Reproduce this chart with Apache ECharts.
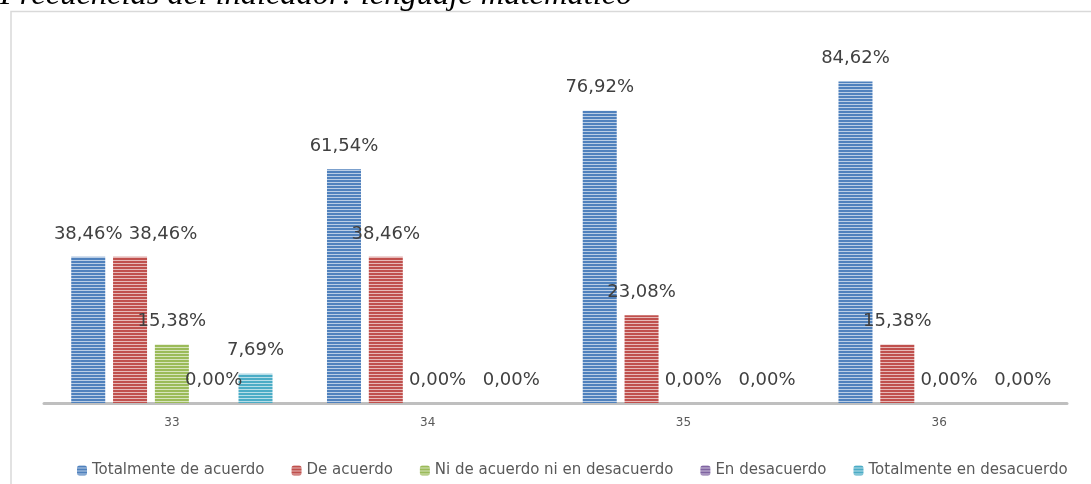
<!DOCTYPE html>
<html>
<head>
<meta charset="utf-8">
<script src="https://cdn.jsdelivr.net/npm/echarts@6/dist/echarts.min.js"></script>
<style>
  html, body { margin: 0; padding: 0; background: #fff; }
  #main { width: 1091px; height: 484px; }
</style>
</head>
<body>
<div id="main"></div>
<script>
const categories = ["33", "34", "35", "36"];
const seriesNames = ["Totalmente de acuerdo", "De acuerdo", "Ni de acuerdo ni en desacuerdo", "En desacuerdo", "Totalmente en desacuerdo"];
const totalmenteDeAcuerdo = [38.46, 61.54, 76.92, 84.62];
const deAcuerdo = [38.46, 38.46, 23.08, 15.38];
const niDeAcuerdo = [15.38, 0, 0, 0];
const enDesacuerdo = [0, 0, 0, 0];
const totalmenteEnDesacuerdo = [7.69, 0, 0, 0];
const colorArr = ["#4F81BD", "#C0504D", "#9BBB59", "#8064A2", "#4BACC6"];

// striped fill like the office chart
function stripes(hex) {
  const c = document.createElement("canvas");
  c.width = 4;
  c.height = 3;
  const ctx = c.getContext("2d");
  const r = parseInt(hex.slice(1, 3), 16), g = parseInt(hex.slice(3, 5), 16), b = parseInt(hex.slice(5, 7), 16);
  const mix = (v, k) => Math.round(v + (255 - v) * k);
  ctx.fillStyle = hex;
  ctx.fillRect(0, 0, 4, 2);
  ctx.fillStyle = "rgb(" + mix(r, 0.6) + "," + mix(g, 0.6) + "," + mix(b, 0.6) + ")";
  ctx.fillRect(0, 2, 4, 1);
  return { image: c, repeat: "repeat" };
}

const allData = [totalmenteDeAcuerdo, deAcuerdo, niDeAcuerdo, enDesacuerdo, totalmenteEnDesacuerdo];

// label tweaks so the overlapping labels sit like in the original
function labelFor(si, di) {
  if (si === 1 && di === 0) return { offset: [33, 0] };
  if (si === 2 && di > 0) return { offset: [10, 0] };
  if (si === 3 && di > 0) return { show: false };
  return {};
}

let chart = echarts.init(document.getElementById("main"));
let option = {
  animation: false,
  title: {
    text: "Frecuencias del indicador: lenguaje matemático",
    left: 0,
    top: -21,
    padding: 0,
    textStyle: {
      fontFamily: "Liberation Serif",
      fontStyle: "italic",
      fontWeight: "normal",
      fontSize: 32.5,
      color: "#000"
    }
  },
  graphic: [
    {
      type: "rect",
      shape: { x: 11, y: 11.5, width: 1100, height: 500 },
      style: { fill: "none", stroke: "#d9d9d9", lineWidth: 1.5 },
      silent: true
    }
  ],
  legend: {
    bottom: 1,
    left: 72,
    itemWidth: 10,
    itemHeight: 10,
    itemGap: 27,
    textStyle: { fontFamily: "DejaVu Sans", fontSize: 15, color: "#595959" },
    data: seriesNames
  },
  grid: { left: 44, right: 24, top: 23, bottom: 81 },
  xAxis: {
    type: "category",
    data: categories,
    axisLine: { lineStyle: { color: "#bfbfbf", width: 3 } },
    axisTick: { show: false },
    axisLabel: { color: "#595959", fontSize: 12, fontFamily: "DejaVu Sans", margin: 14 }
  },
  yAxis: {
    type: "value",
    min: 0,
    max: 100,
    show: false
  },
  series: seriesNames.map((name, i) => ({
    name: name,
    type: "bar",
    data: allData[i].map((v, j) => ({ value: v, label: labelFor(i, j) })),
    barWidth: 34,
    barGap: "23%",
    itemStyle: { color: stripes(colorArr[i]) },
    label: {
      show: true,
      position: "top",
      distance: 14,
      fontFamily: "DejaVu Sans",
      fontSize: 18,
      color: "#404040",
      formatter: p => p.value.toFixed(2).replace(".", ",") + "%"
    }
  }))
};
chart.setOption(option);
window.addEventListener("resize", chart.resize);
</script>
</body>
</html>
